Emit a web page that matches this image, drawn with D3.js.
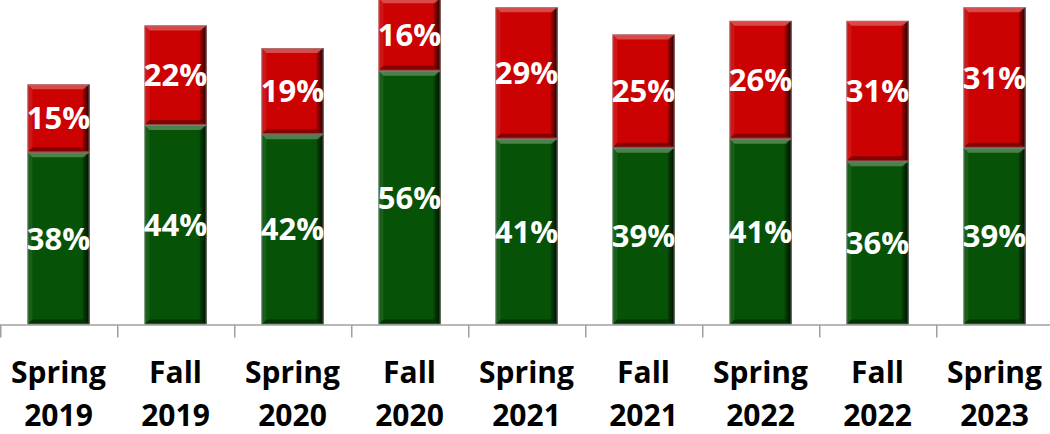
<!DOCTYPE html>
<html>
<head>
<meta charset="utf-8">
<script src="https://cdn.jsdelivr.net/npm/d3@7"></script>
<style>
  html, body { margin: 0; padding: 0; background: #fff; }
  svg { display: block; }
  .pct { font-family: "Open Sans", sans-serif; font-weight: 700; fill: #fff; }
  .cat { font-family: "Open Sans", sans-serif; font-weight: 700; fill: #000; }
</style>
</head>
<body>
<script>
// data
var terms = ['Spring', 'Fall', 'Spring', 'Fall', 'Spring', 'Fall', 'Spring', 'Fall', 'Spring'];
var years = ['2019', '2019', '2020', '2020', '2021', '2021', '2022', '2022', '2023'];
var greenValues = [38, 44, 42, 56, 41, 39, 41, 36, 39];
var redValues = [15, 22, 19, 16, 29, 25, 26, 31, 31];

var W = 1050, H = 434, base = 324.5;

var svg = d3.select('body').append('svg')
  .attr('width', W)
  .attr('height', H);

var cats = terms.map(function (t, i) { return t + ' ' + years[i]; });

var x = d3.scaleBand()
  .domain(cats)
  .range([0, 1053])
  .paddingInner(0.47)
  .paddingOuter(0.235);

var y = d3.scaleLinear()
  .domain([0, 71.6])
  .range([base, 0]);

var rows = cats.map(function (c, i) {
  return [
    {cat: c, v: greenValues[i], y0: 0, y1: greenValues[i], fill: '#065206'},
    {cat: c, v: redValues[i], y0: greenValues[i], y1: greenValues[i] + redValues[i], fill: '#cc0202'}
  ];
});
var segs = [].concat.apply([], rows);

var defs = svg.append('defs');
var rg = defs.append('linearGradient').attr('id', 'rightShade');
rg.append('stop').attr('offset', '0%').attr('stop-color', '#000').attr('stop-opacity', 0.15);
rg.append('stop').attr('offset', '100%').attr('stop-color', '#000').attr('stop-opacity', 0.85);

var bw = x.bandwidth();
var b = 5; // bevel size

var g = svg.selectAll('g.seg')
  .data(segs)
  .enter()
  .append('g')
  .attr('class', 'seg');

g.each(function (d) {
  var el = d3.select(this);
  var x0 = x(d.cat), x1 = x0 + bw;
  var yt = y(d.y1), yb = y(d.y0);
  el.append('rect')
    .attr('x', x0).attr('y', yt)
    .attr('width', bw).attr('height', yb - yt)
    .attr('fill', d.fill);
  // top bevel (light)
  el.append('polygon')
    .attr('points', [[x0, yt], [x1, yt], [x1 - b, yt + b], [x0 + b, yt + b]].join(' '))
    .attr('fill', '#fff').attr('opacity', 0.28);
  // bottom bevel (dark)
  el.append('polygon')
    .attr('points', [[x0, yb], [x1, yb], [x1 - b, yb - b], [x0 + b, yb - b]].join(' '))
    .attr('fill', '#000').attr('opacity', 0.35);
  // left bevel (slightly light)
  el.append('polygon')
    .attr('points', [[x0, yt], [x0 + b, yt + b], [x0 + b, yb - b], [x0, yb]].join(' '))
    .attr('fill', '#fff').attr('opacity', 0.08);
  // right bevel (dark)
  el.append('polygon')
    .attr('points', [[x1, yt], [x1 - b - 2, yt + b], [x1 - b - 2, yb - b], [x1, yb]].join(' '))
    .attr('fill', 'url(#rightShade)');
  el.append('rect')
    .attr('x', x0 + 0.5).attr('y', yt + 0.5)
    .attr('width', bw - 1).attr('height', yb - yt - 1)
    .attr('fill', 'none').attr('stroke', '#8a8a8a').attr('stroke-opacity', 0.6).attr('stroke-width', 1);
});

svg.selectAll('text.pct')
  .data(segs)
  .enter()
  .append('text')
  .attr('class', 'pct')
  .attr('x', function (d) { return x(d.cat) + bw / 2; })
  .attr('y', function (d) { return (y(d.y0) + y(d.y1)) / 2; })
  .attr('dy', '0.36em')
  .attr('text-anchor', 'middle')
  .style('font-size', '31px')
  .text(function (d) { return d.v + '%'; });

// axis line and ticks between categories
svg.append('line')
  .attr('x1', 0).attr('x2', W)
  .attr('y1', base + 0.5).attr('y2', base + 0.5)
  .attr('stroke', '#a0a0a0').attr('stroke-width', 1.5);

var step = x.step();
svg.selectAll('line.tick')
  .data(d3.range(cats.length + 1))
  .enter()
  .append('line')
  .attr('class', 'tick')
  .attr('x1', function (i) { return i * step + 0.75; })
  .attr('x2', function (i) { return i * step + 0.75; })
  .attr('y1', base + 0.5).attr('y2', base + 13)
  .attr('stroke', '#a0a0a0').attr('stroke-width', 1.5);

var lab = svg.selectAll('text.cat')
  .data(cats)
  .enter()
  .append('text')
  .attr('class', 'cat')
  .attr('text-anchor', 'middle')
  .style('font-size', '30px');

lab.append('tspan')
  .attr('x', function (d) { return x(d) + bw / 2; })
  .attr('y', 383)
  .text(function (d, i) { return terms[i]; });
lab.append('tspan')
  .attr('x', function (d) { return x(d) + bw / 2; })
  .attr('y', 426)
  .text(function (d, i) { return years[i]; });
</script>
</body>
</html>
